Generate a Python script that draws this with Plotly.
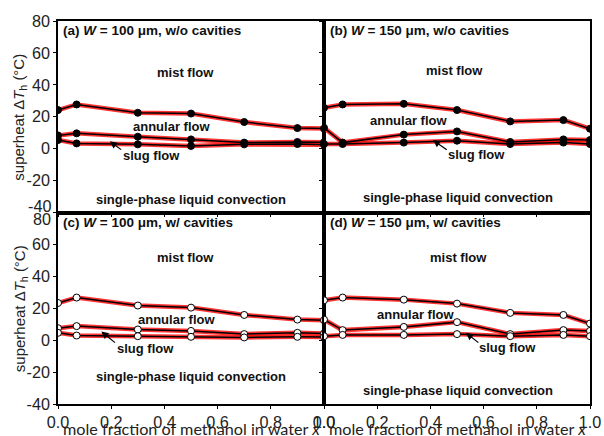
import plotly.graph_objects as go
from plotly.subplots import make_subplots

x_vals = [0.0, 0.07, 0.3, 0.5, 0.7, 0.9, 1.0]

# panel (a) W=100 um, w/o cavities
a_top = [24.2, 27.7, 22.5, 22.0, 16.7, 12.9, 12.6]
a_mid = [8.3, 9.6, 7.5, 5.8, 3.8, 4.2, 4.0]
a_bot = [5.4, 3.3, 2.7, 1.7, 2.7, 2.9, 2.5]
# panel (b) W=150 um, w/o cavities
b_top = [25.6, 27.7, 28.1, 24.2, 17.1, 17.9, 12.5]
b_mid = [13.1, 3.8, 8.8, 10.8, 4.2, 5.8, 5.4]
b_bot = [2.9, 2.9, 3.8, 5.0, 2.9, 3.8, 2.9]
# panel (c) W=100 um, w/ cavities
c_top = [23.3, 26.7, 21.7, 20.4, 15.8, 12.9, 12.5]
c_mid = [7.5, 8.8, 6.7, 5.8, 3.8, 4.6, 4.2]
c_bot = [4.6, 2.9, 2.5, 2.1, 1.7, 2.1, 2.0]
# panel (d) W=150 um, w/ cavities
d_top = [25.0, 26.7, 25.4, 22.9, 17.1, 15.8, 10.4]
d_mid = [12.9, 6.3, 8.3, 11.3, 3.8, 6.3, 5.8]
d_bot = [2.5, 3.3, 3.3, 3.8, 2.5, 3.3, 2.5]

panel_titles = ["(a) <i>W</i> = 100 \u03bcm, w/o cavities",
                "(b) <i>W</i> = 150 \u03bcm, w/o cavities",
                "(c) <i>W</i> = 100 \u03bcm, w/ cavities",
                "(d) <i>W</i> = 150 \u03bcm, w/ cavities"]

x_ticks = [0.0, 0.2, 0.4, 0.6, 0.8, 1.0]
y_ticks = [-40, -20, 0, 20, 40, 60, 80]
y_top_text = ["", "-20", "0", "20", "40", "60", "80"]
y_bot_text = ["-40", "-20", "0", "20", "40", "60", ""]

panels = [
    dict(row=1, col=1, curves=[a_top, a_mid, a_bot], filled=True,
         title_x=0.01, title_y=0.951,
         mist=(0.481, 48), annular=(0.427, 13.8), single=(0.5, -31.7),
         arrow_head=(0.195, 4.6), arrow_tail=(0.243, -1.3), slug=(0.35, -4.4)),
    dict(row=1, col=2, curves=[b_top, b_mid, b_bot], filled=True,
         title_x=0.015, title_y=0.951,
         mist=(0.49, 49), annular=(0.319, 17.7), single=(0.503, -30.6),
         arrow_head=(0.41, 5.4), arrow_tail=(0.467, -1.4), slug=(0.575, -3.8)),
    dict(row=2, col=1, curves=[c_top, c_mid, c_bot], filled=False,
         title_x=0.01, title_y=0.947,
         mist=(0.481, 51.9), annular=(0.446, 12.7), single=(0.5, -22.7),
         arrow_head=(0.163, 5.4), arrow_tail=(0.22, -2.3), slug=(0.33, -5.0)),
    dict(row=2, col=2, curves=[d_top, d_mid, d_bot], filled=False,
         title_x=0.015, title_y=0.947,
         mist=(0.507, 51.9), annular=(0.345, 16.4), single=(0.503, -31.5),
         arrow_head=(0.534, 4.6), arrow_tail=(0.586, -2.3), slug=(0.69, -4.4)),
]

fig = make_subplots(rows=2, cols=2, horizontal_spacing=0, vertical_spacing=0)

tick_font = dict(family="Liberation Sans, Arial, sans-serif", size=16.2, color="#222")
lab_font = dict(family="Liberation Sans, Arial, sans-serif", size=13, color="#111")
title_font = dict(family="Liberation Sans, Arial, sans-serif", size=13.5, color="#111")

for i, p in enumerate(panels):
    r, c = p["row"], p["col"]
    for ys in p["curves"]:
        fig.add_trace(go.Scatter(x=x_vals, y=ys, mode="lines",
                                 line=dict(color="rgba(255,0,0,0.8)", width=4.5),
                                 hoverinfo="skip", showlegend=False), row=r, col=c)
    for ys in p["curves"]:
        fig.add_trace(go.Scatter(x=x_vals, y=ys, mode="lines+markers",
                                 line=dict(color="black", width=1.5),
                                 marker=dict(size=7, color="black" if p["filled"] else "white",
                                             line=dict(color="black", width=1)),
                                 showlegend=False), row=r, col=c)
    n = i + 1
    xr = "x" if n == 1 else f"x{n}"
    yr = "y" if n == 1 else f"y{n}"
    fig.add_annotation(text="<b>" + panel_titles[i] + "</b>", xref=xr + " domain", yref=yr + " domain",
                       x=p["title_x"], y=p["title_y"], xanchor="left", yanchor="middle",
                       showarrow=False, font=title_font)
    for key, txt in [("mist", "mist flow"), ("annular", "annular flow"),
                     ("single", "single-phase liquid convection"), ("slug", "slug flow")]:
        fx, fy = p[key]
        fig.add_annotation(text="<b>" + txt + "</b>", xref=xr, yref=yr, x=fx, y=fy,
                           showarrow=False, font=lab_font)
    hx, hy = p["arrow_head"]
    tx, ty = p["arrow_tail"]
    fig.add_annotation(text="", xref=xr, yref=yr, x=hx, y=hy, axref=xr, ayref=yr,
                       ax=tx, ay=ty, showarrow=True, arrowhead=2, arrowsize=1.2,
                       arrowwidth=1.2, arrowcolor="black")

fig.update_xaxes(range=[0, 1], tickvals=x_ticks, ticktext=[f"{v:.1f}" for v in x_ticks],
                 ticks="outside", ticklen=3, tickwidth=1.2, tickcolor="black",
                 showline=True, linecolor="black", linewidth=1.6, mirror=True,
                 showgrid=False, zeroline=False, tickfont=tick_font)
fig.update_yaxes(range=[-40, 80], tickvals=y_ticks,
                 ticks="outside", ticklen=3, tickwidth=1.2, tickcolor="black",
                 showline=True, linecolor="black", linewidth=1.6, mirror=True,
                 showgrid=False, zeroline=False, tickfont=tick_font)
fig.update_yaxes(ticktext=y_top_text, row=1, col=1)
fig.update_yaxes(ticktext=y_bot_text, row=2, col=1)
fig.update_xaxes(showticklabels=False, row=1)
fig.update_yaxes(showticklabels=False, col=2)

# shared-edge y tick labels, nudged apart as in the original
fig.add_annotation(text=str(y_ticks[0]), xref="x domain", yref="y domain", x=0, y=0,
                   xanchor="right", yanchor="middle", xshift=-5, yshift=7,
                   showarrow=False, font=tick_font)
fig.add_annotation(text=str(y_ticks[-1]), xref="x3 domain", yref="y3 domain", x=0, y=1,
                   xanchor="right", yanchor="middle", xshift=-5, yshift=-6,
                   showarrow=False, font=tick_font)

# axis titles
for cx in [0.25, 0.75]:
    fig.add_annotation(text="mole fraction of methanol in water <i>x</i>", xref="paper", yref="paper",
                       x=cx, y=-0.0639, xanchor="center", yanchor="middle", showarrow=False,
                       font=dict(family="Lato, sans-serif", size=16.2, color="#222"))
for cy in [0.75, 0.25]:
    fig.add_annotation(text="superheat \u0394<i>T</i><sub>h</sub> (\u00b0C)", xref="paper", yref="paper",
                       x=-0.0715, y=cy, xanchor="center", yanchor="middle", textangle=-90,
                       showarrow=False, font=dict(family="Liberation Sans, Arial, sans-serif", size=15, color="#222"))

fig.update_layout(width=613, height=443, margin=dict(l=58, r=14, t=18, b=34),
                  paper_bgcolor="white", plot_bgcolor="white")

fig.write_html("out.html", config={"displayModeBar": False},
               post_script="document.body.style.margin='0';document.body.style.overflow='hidden';")
